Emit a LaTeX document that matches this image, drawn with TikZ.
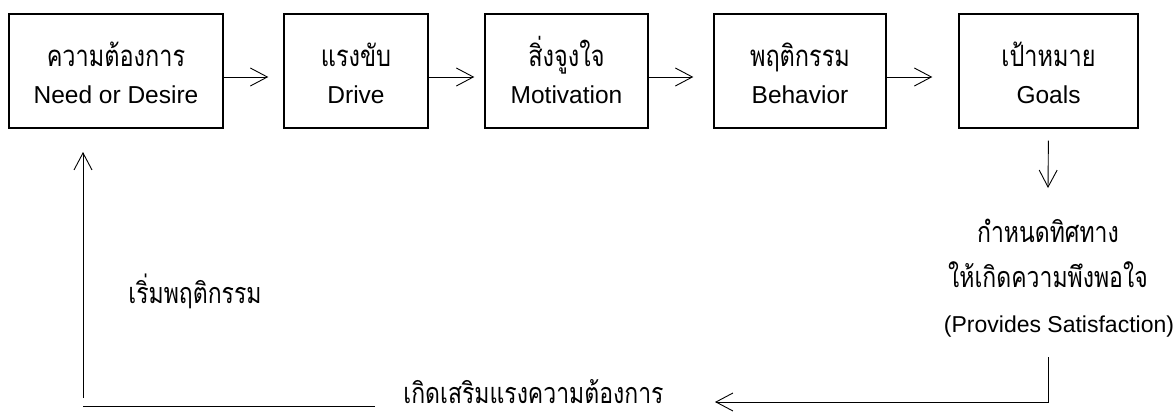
\documentclass[tikz,border=0pt]{standalone}
\usepackage{fontspec}
\usepackage{graphicx}
\setmainfont{Liberation Sans}
\newfontfamily\thai[Script=Thai]{Loma}
\usetikzlibrary{arrows.meta}
% Thai text, set a little taller than the Latin lines
\newcommand\thaitxt[1]{\scalebox{1}[1.25]{\thai #1}}
% a stage label: Thai name above, English name below, baselines 36pt apart
\newcommand\stagetxt[2]{\rule{0pt}{30pt}\smash{\fontsize{23.5}{36}\selectfont\thaitxt{#1}}\\\smash{#2}\rule[-2pt]{0pt}{2pt}}
\begin{document}
\begin{tikzpicture}[x=1pt,y=-1pt,
  box/.style={draw, line width=1.4pt, inner sep=0pt, align=center,
              minimum height=114pt, font=\fontsize{24.5}{36}\selectfont},
  lbl/.style={inner sep=0pt, align=center, font=\fontsize{23}{45}\selectfont},
  arr/.style={line width=0.9pt, -{Straight Barb[length=17pt,width=18pt]}},
  ln/.style={line width=0.9pt}]
\useasboundingbox (0,0) rectangle (1173,412);

% the five stages of the motivation process
\node[box, minimum width=214pt] (need)  at (116,71)    {\stagetxt{ความต้องการ}{Need or Desire}};
\node[box, minimum width=144pt] (drive) at (356,71)    {\stagetxt{แรงขับ}{Drive}};
\node[box, minimum width=163pt] (motiv) at (566.5,71)  {\stagetxt{สิ่งจูงใจ}{Motivation}};
\node[box, minimum width=172pt] (behav) at (800,71)    {\stagetxt{พฤติกรรม}{Behavior}};
\node[box, minimum width=179pt] (goals) at (1048.5,71) {\stagetxt{เป้าหมาย}{Goals}};

% forward arrows between the stages
\draw[arr, shorten >=15pt] ([yshift=-6pt]need.east)  -- ([yshift=-6pt]drive.west);
\draw[arr, shorten >=10pt] ([yshift=-6pt]drive.east) -- ([yshift=-6pt]motiv.west);
\draw[arr, shorten >=20pt] ([yshift=-6pt]motiv.east) -- ([yshift=-6pt]behav.west);
\draw[arr, shorten >=26pt] ([yshift=-6pt]behav.east) -- ([yshift=-6pt]goals.west);

% satisfaction step below the goals (base anchor = last line)
\node[lbl, anchor=base] (sat) at (1048,332)
  {\thaitxt{กำหนดทิศทาง}\\\thaitxt{ให้เกิดความพึงพอใจ}\\\hspace*{22pt}(Provides Satisfaction)};
\coordinate (d1) at (1048,188);
\draw[arr, shorten <=12pt] (goals.south) -- (d1);

% feedback loop back to the need
\coordinate (r1) at (1048,357);
\coordinate (r2) at (1048,402);
\coordinate (r3) at (715,402);
\draw[arr] (r1) -- (r2) -- (r3);

\node[lbl, anchor=base] (reinf) at (533.5,403) {\thaitxt{เกิดเสริมแรงความต้องการ}};

\coordinate (l1) at (375,406);
\coordinate (l2) at (83,406);
\draw[ln] (l1) -- (l2);

\coordinate (u1) at (83,398);
\coordinate (u2) at (83,152);
\draw[arr] (u1) -- (u2);

\node[lbl, anchor=base] (start) at (195,303) {\thaitxt{เริ่มพฤติกรรม}};
\end{tikzpicture}
\end{document}
